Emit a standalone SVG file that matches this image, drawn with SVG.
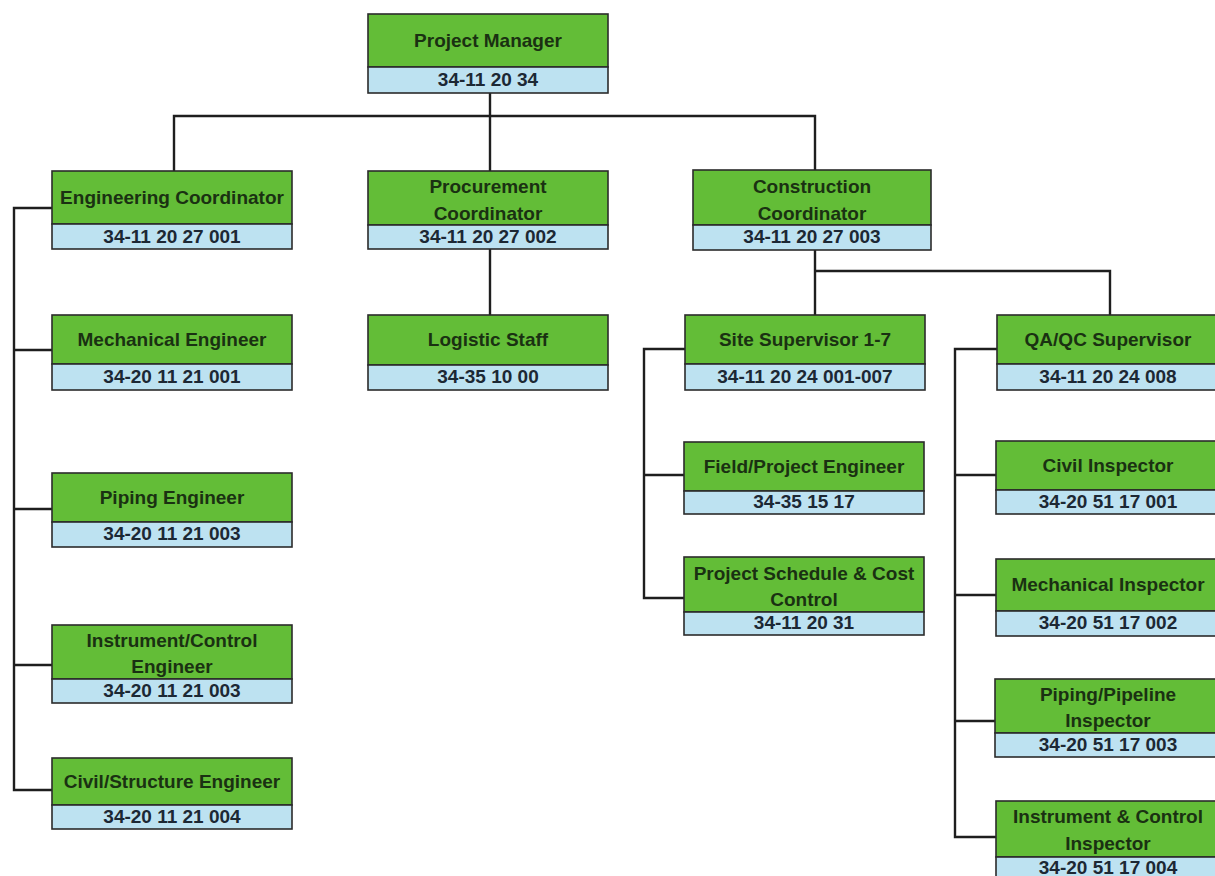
<svg xmlns="http://www.w3.org/2000/svg" width="1215" height="876" viewBox="0 0 1215 876">
  <style>
    .role { fill: #63bd37; stroke: #2b2b2b; stroke-width: 1.6; }
    .code { fill: #bde2f1; stroke: #2b2b2b; stroke-width: 1.6; }
    .name { font-family: "Liberation Sans", Arial, sans-serif; font-weight: bold; font-size: 19px; fill: #1a3112; text-anchor: middle; }
    .num { font-family: "Liberation Sans", Arial, sans-serif; font-weight: bold; font-size: 19px; fill: #1c2834; text-anchor: middle; }
    .link { fill: none; stroke: #1e1e1e; stroke-width: 2.4; }
  </style>
  <rect width="1215" height="876" fill="#ffffff"/>

  <!-- reporting lines -->
  <g id="connectors" class="link">
    <path d="M490 93 V116"/>
    <path d="M174 171 V116 H815 V170"/>
    <path d="M490 116 V171"/>
    <path d="M52 208 H14 V790 H52"/>
    <path d="M14 350 H52"/>
    <path d="M14 509 H52"/>
    <path d="M14 665 H52"/>
    <path d="M490 249 V315"/>
    <path d="M815 250 V315"/>
    <path d="M815 271 H1110 V315"/>
    <path d="M685 349 H644 V598 H684"/>
    <path d="M644 475 H684"/>
    <path d="M997 349 H955 V837 H996"/>
    <path d="M955 475 H996"/>
    <path d="M955 595 H996"/>
    <path d="M955 721 H995"/>
  </g>

  <g id="project-manager">
    <rect class="role" x="368" y="14" width="240" height="53"/>
    <rect class="code" x="368" y="67" width="240" height="26"/>
    <text class="name" x="488" y="47">Project Manager</text>
    <text class="num" x="488" y="86">34-11 20 34</text>
  </g>

  <g id="engineering-coordinator">
    <rect class="role" x="52" y="171" width="240" height="53"/>
    <rect class="code" x="52" y="224" width="240" height="25"/>
    <text class="name" x="172" y="204">Engineering Coordinator</text>
    <text class="num" x="172" y="243">34-11 20 27 001</text>
  </g>

  <g id="procurement-coordinator">
    <rect class="role" x="368" y="171" width="240" height="54"/>
    <rect class="code" x="368" y="225" width="240" height="24"/>
    <text class="name" x="488" y="193">Procurement</text>
    <text class="name" x="488" y="220">Coordinator</text>
    <text class="num" x="488" y="243">34-11 20 27 002</text>
  </g>

  <g id="construction-coordinator">
    <rect class="role" x="693" y="170" width="238" height="55"/>
    <rect class="code" x="693" y="225" width="238" height="25"/>
    <text class="name" x="812" y="193">Construction</text>
    <text class="name" x="812" y="220">Coordinator</text>
    <text class="num" x="812" y="243">34-11 20 27 003</text>
  </g>

  <g id="mechanical-engineer">
    <rect class="role" x="52" y="315" width="240" height="49"/>
    <rect class="code" x="52" y="364" width="240" height="26"/>
    <text class="name" x="172" y="346">Mechanical Engineer</text>
    <text class="num" x="172" y="383">34-20 11 21 001</text>
  </g>

  <g id="logistic-staff">
    <rect class="role" x="368" y="315" width="240" height="50"/>
    <rect class="code" x="368" y="365" width="240" height="25"/>
    <text class="name" x="488" y="346">Logistic Staff</text>
    <text class="num" x="488" y="383">34-35 10 00</text>
  </g>

  <g id="site-supervisor">
    <rect class="role" x="685" y="315" width="240" height="49"/>
    <rect class="code" x="685" y="364" width="240" height="26"/>
    <text class="name" x="805" y="346">Site Supervisor 1-7</text>
    <text class="num" x="805" y="383">34-11 20 24 001-007</text>
  </g>

  <g id="qa-qc-supervisor">
    <rect class="role" x="997" y="315" width="223" height="49"/>
    <rect class="code" x="997" y="364" width="223" height="26"/>
    <text class="name" x="1108" y="346">QA/QC Supervisor</text>
    <text class="num" x="1108" y="383">34-11 20 24 008</text>
  </g>

  <g id="piping-engineer">
    <rect class="role" x="52" y="473" width="240" height="49"/>
    <rect class="code" x="52" y="522" width="240" height="25"/>
    <text class="name" x="172" y="504">Piping Engineer</text>
    <text class="num" x="172" y="540">34-20 11 21 003</text>
  </g>

  <g id="field-project-engineer">
    <rect class="role" x="684" y="442" width="240" height="49"/>
    <rect class="code" x="684" y="491" width="240" height="23"/>
    <text class="name" x="804" y="473">Field/Project Engineer</text>
    <text class="num" x="804" y="508">34-35 15 17</text>
  </g>

  <g id="civil-inspector">
    <rect class="role" x="996" y="441" width="224" height="49"/>
    <rect class="code" x="996" y="490" width="224" height="24"/>
    <text class="name" x="1108" y="472">Civil Inspector</text>
    <text class="num" x="1108" y="508">34-20 51 17 001</text>
  </g>

  <g id="project-schedule-cost-control">
    <rect class="role" x="684" y="557" width="240" height="55"/>
    <rect class="code" x="684" y="612" width="240" height="23"/>
    <text class="name" x="804" y="580">Project Schedule &amp; Cost</text>
    <text class="name" x="804" y="606">Control</text>
    <text class="num" x="804" y="629">34-11 20 31</text>
  </g>

  <g id="mechanical-inspector">
    <rect class="role" x="996" y="559" width="224" height="52"/>
    <rect class="code" x="996" y="611" width="224" height="25"/>
    <text class="name" x="1108" y="591">Mechanical Inspector</text>
    <text class="num" x="1108" y="629">34-20 51 17 002</text>
  </g>

  <g id="instrument-control-engineer">
    <rect class="role" x="52" y="625" width="240" height="54"/>
    <rect class="code" x="52" y="679" width="240" height="24"/>
    <text class="name" x="172" y="647">Instrument/Control</text>
    <text class="name" x="172" y="673">Engineer</text>
    <text class="num" x="172" y="697">34-20 11 21 003</text>
  </g>

  <g id="piping-pipeline-inspector">
    <rect class="role" x="995" y="679" width="225" height="54"/>
    <rect class="code" x="995" y="733" width="225" height="24"/>
    <text class="name" x="1108" y="701">Piping/Pipeline</text>
    <text class="name" x="1108" y="727">Inspector</text>
    <text class="num" x="1108" y="751">34-20 51 17 003</text>
  </g>

  <g id="civil-structure-engineer">
    <rect class="role" x="52" y="758" width="240" height="47"/>
    <rect class="code" x="52" y="805" width="240" height="24"/>
    <text class="name" x="172" y="788">Civil/Structure Engineer</text>
    <text class="num" x="172" y="823">34-20 11 21 004</text>
  </g>

  <g id="instrument-control-inspector">
    <rect class="role" x="996" y="801" width="224" height="56"/>
    <rect class="code" x="996" y="857" width="224" height="25"/>
    <text class="name" x="1108" y="823">Instrument &amp; Control</text>
    <text class="name" x="1108" y="850">Inspector</text>
    <text class="num" x="1108" y="874">34-20 51 17 004</text>
  </g>
</svg>
